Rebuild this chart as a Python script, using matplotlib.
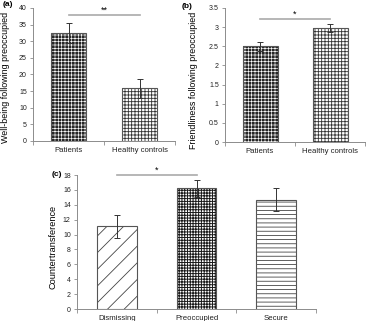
import matplotlib
matplotlib.use("Agg")
import matplotlib.pyplot as plt
import numpy as np

plt.rcParams['font.family'] = ['Liberation Sans', 'DejaVu Sans']

# Data
cats_a = ["Patients", "Healthy controls"]
vals_a = [32.5, 15.8]
errs_a = [3.0, 2.9]

cats_b = ["Patients", "Healthy controls"]
vals_b = [2.50, 2.98]
errs_b = [0.12, 0.10]

cats_c = ["Dismissing", "Preoccupied", "Secure"]
vals_c = [11.1, 16.2, 14.7]
errs_c = [1.5, 1.1, 1.5]

yticks_a = [0, 5, 10, 15, 20, 25, 30, 35, 40]
yticks_b = [0, 0.5, 1, 1.5, 2, 2.5, 3, 3.5]
yticks_c = [0, 2, 4, 6, 8, 10, 12, 14, 16, 18]

W, H = 366, 321
fig = plt.figure(figsize=(W / 100, H / 100), dpi=100)

def px_axes(x0, x1, ytop, ybot):
    return fig.add_axes([x0 / W, 1 - ybot / H, (x1 - x0) / W, (ybot - ytop) / H])

ax_a = px_axes(33, 175, 8, 141)
ax_b = px_axes(225, 365, 8, 142)
ax_c = px_axes(77, 316, 175, 309)

spine_col = '#8c8c8c'

def style(ax, cats, yticks, ymax):
    n = len(cats)
    ax.set_xlim(-0.5, n - 0.5)
    ax.set_ylim(0, ymax)
    ax.set_yticks(yticks)
    ax.set_yticklabels([f"{t:g}" for t in yticks], fontsize=5, color='#222222')
    ax.set_xticks(range(n))
    ax.set_xticklabels(cats, fontsize=5.6, color='#222222')
    ax.set_xticks(np.arange(-0.5, n, 1.0), minor=True)
    ax.tick_params(axis='x', which='major', length=0, pad=4)
    ax.tick_params(axis='x', which='minor', length=3, color=spine_col, width=0.6)
    ax.tick_params(axis='y', length=2.5, color=spine_col, width=0.6, pad=2)
    for s in ['top', 'right']:
        ax.spines[s].set_visible(False)
    for s in ['left', 'bottom']:
        ax.spines[s].set_color(spine_col)
        ax.spines[s].set_linewidth(0.7)

def bars(ax, vals, errs, fills):
    x = np.arange(len(vals))
    for xi, v, (fc, hc, hatch, hlw) in zip(x, vals, fills):
        plt.rcParams['hatch.linewidth'] = hlw
        ax.bar(xi, v, width=0.5, color=fc, edgecolor=hc, hatch=hatch, linewidth=0, zorder=2)
    ax.bar(x, vals, width=0.5, facecolor='none', edgecolor='#555555', linewidth=0.8, zorder=3)
    ax.errorbar(x, vals, yerr=errs, fmt='none', ecolor='#333333', elinewidth=0.7,
                capsize=2, capthick=0.7, zorder=4)

def sig(ax, y, ystar, label):
    ax.plot([0, 1], [y, y], color='#aaaaaa', linewidth=1.2, clip_on=False, zorder=5)
    ax.text(0.5, ystar, label, ha='center', va='center', fontsize=6.5, clip_on=False)

dark = ('#262626', 'white', '+++++', 0.45)
light = ('white', '#333333', '+++++', 0.6)

style(ax_a, cats_a, yticks_a, 40)
bars(ax_a, vals_a, errs_a, [dark, light])
sig(ax_a, 37.8, 39.4, '**')
ax_a.set_ylabel("Well-being following preoccupied", fontsize=6.4)
ax_a.yaxis.set_label_coords(-0.165, 0.48)

style(ax_b, cats_b, yticks_b, 3.5)
bars(ax_b, vals_b, errs_b, [dark, light])
sig(ax_b, 3.21, 3.34, '*')
ax_b.set_ylabel("Friendliness following preoccupied", fontsize=6.4)
ax_b.yaxis.set_label_coords(-0.19, 0.46)

style(ax_c, cats_c, yticks_c, 18)
bars(ax_c, vals_c, errs_c, [('white', '#444444', '//', 0.6),
                           ('white', '#1a1a1a', '++++++', 0.7),
                           ('white', '#444444', '----', 0.6)])
sig(ax_c, 18, 18.7, '*')
ax_c.set_ylabel("Countertransference", fontsize=6.6)
ax_c.yaxis.set_label_coords(-0.08, 0.46)

fig.text(8 / W, 1 - 5 / H, "(a)", fontsize=6, fontweight='bold', ha='center', va='center')
fig.text(187 / W, 1 - 6 / H, "(b)", fontsize=6, fontweight='bold', ha='center', va='center')
fig.text(57 / W, 1 - 175 / H, "(c)", fontsize=6, fontweight='bold', ha='center', va='center')

fig.savefig("out.png", dpi=100)
